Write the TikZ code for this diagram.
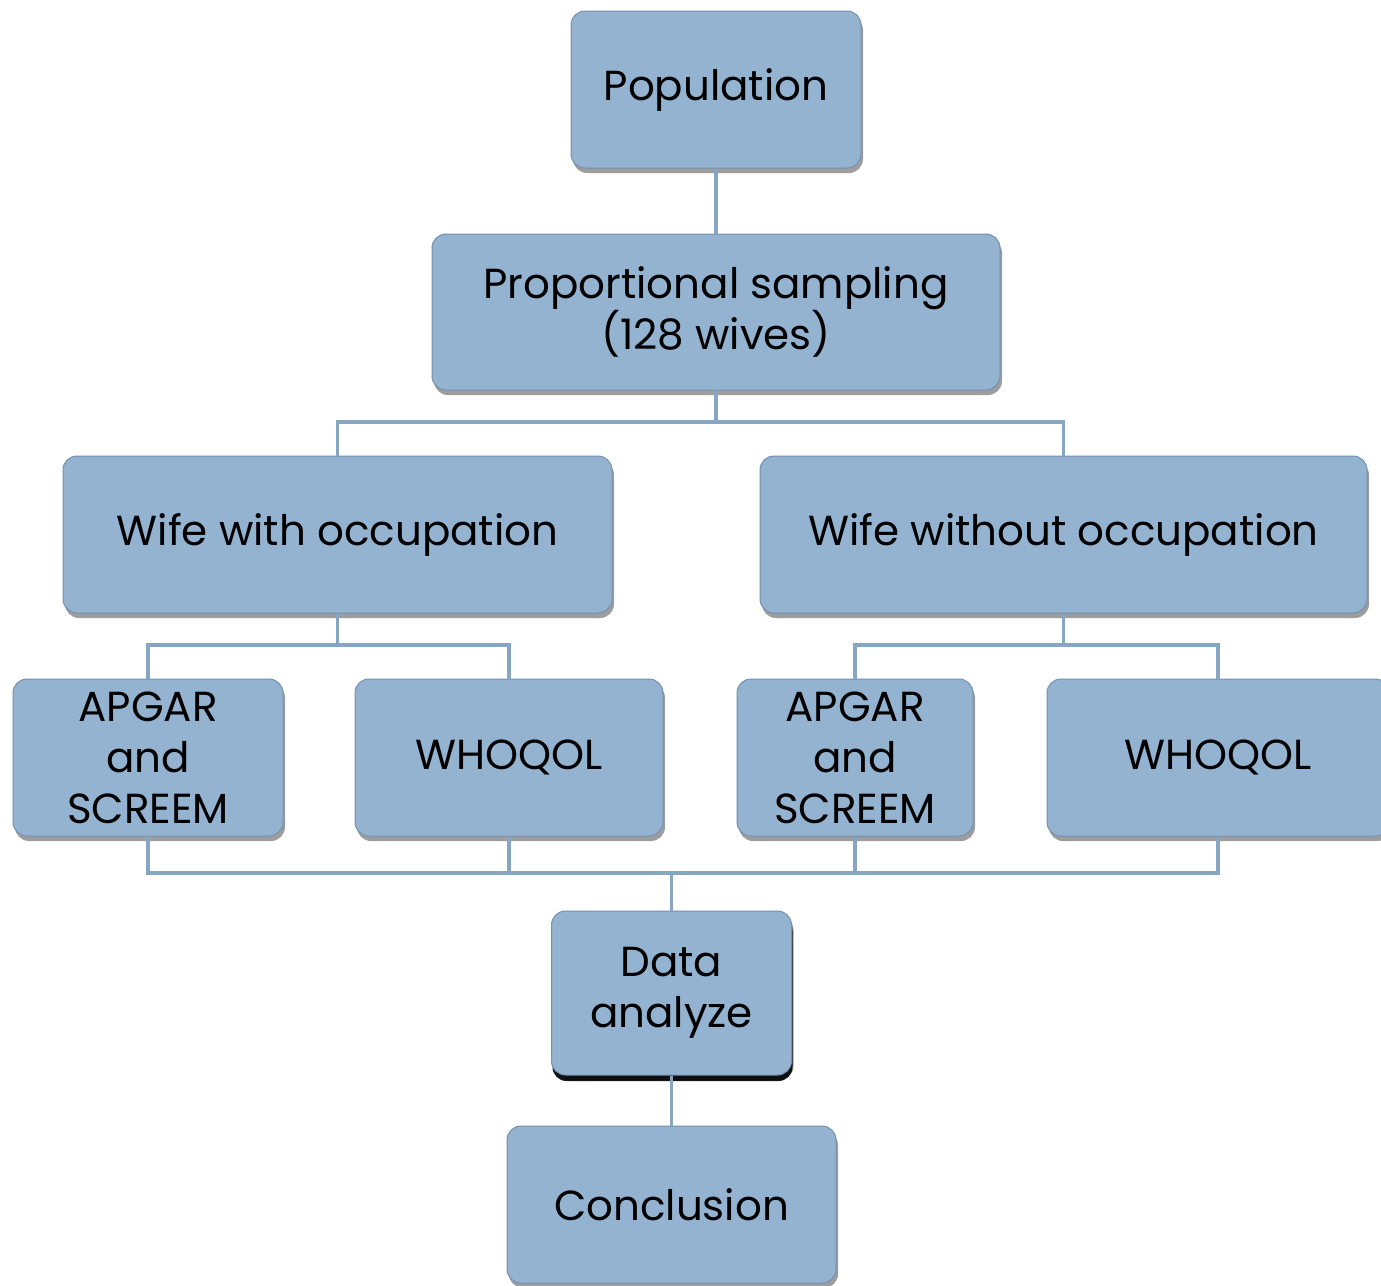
\documentclass[tikz,border=0pt]{standalone}
\usepackage{fontspec}
\setmainfont{Poppins}
\usetikzlibrary{shadows}
\definecolor{boxfill}{HTML}{93B3D1}
\definecolor{boxedge}{HTML}{7491AE}
\definecolor{linkc}{HTML}{87A6C4}
\tikzset{
  box/.style={rectangle, rounded corners=14pt, fill=boxfill, draw=boxedge, line width=1pt,
    inner sep=0pt, align=center, font=\fontsize{42}{51}\selectfont,
    drop shadow={shadow xshift=2pt, shadow yshift=-5pt, opacity=0.55, fill=black!70}},
  darkshadow/.style={drop shadow={shadow xshift=1pt, shadow yshift=-6pt, opacity=0.9, fill=black}},
  link/.style={draw=linkc, line width=3.5pt}
}
\begin{document}
\begin{tikzpicture}[x=1pt,y=-1pt]
\path[use as bounding box] (0,0) rectangle (1381,1285);
\clip (0,0) rectangle (1381,1285);
\node[box, minimum width=290pt, minimum height=157pt] (pop) at (716,89.5) {Population};
\node[box, minimum width=568pt, minimum height=156pt] (prop) at (716,312) {Proportional sampling\\(128 wives)};
\node[box, minimum width=549pt, minimum height=157pt] (ww) at (337.5,534.5) {Wife with occupation};
\node[box, minimum width=607pt, minimum height=157pt] (wo) at (1063.5,534.5) {Wife without occupation};
\node[box, minimum width=270pt, minimum height=157pt] (a1) at (148,757.5) {APGAR\\and\\SCREEM};
\node[box, minimum width=308pt, minimum height=157pt] (w1) at (509,757.5) {WHOQOL};
\node[box, minimum width=236pt, minimum height=157pt] (a2) at (855,757.5) {APGAR\\and\\SCREEM};
\node[box, minimum width=342pt, minimum height=157pt] (w2) at (1218,757.5) {WHOQOL};
\node[box, darkshadow, minimum width=240pt, minimum height=164pt] (da) at (671.5,993) {Data\\analyze};
\node[box, minimum width=329pt, minimum height=157pt] (con) at (671.5,1204.5) {Conclusion};
\coordinate (j1) at (716,422);
\coordinate (j2) at (337.5,645);
\coordinate (j3) at (1063.5,645);
\coordinate (j4) at (671.5,873);
\draw[link] (pop.south) -- (prop.north);
\draw[link] (prop.south) -- (j1);
\draw[link] (ww.north) |- (j1) -| (wo.north);
\draw[link] (ww.south) -- (j2);
\draw[link] (a1.north) |- (j2) -| (w1.north);
\draw[link] (wo.south) -- (j3);
\draw[link] (a2.north) |- (j3) -| (w2.north);
\draw[link] (a1.south) |- (j4) -| (w2.south);
\draw[link] (w1.south) -- (w1.south |- j4);
\draw[link] (a2.south) -- (a2.south |- j4);
\draw[link] (j4) -- (da.north);
\draw[link] (da.south) -- (con.north);
\end{tikzpicture}
\end{document}
